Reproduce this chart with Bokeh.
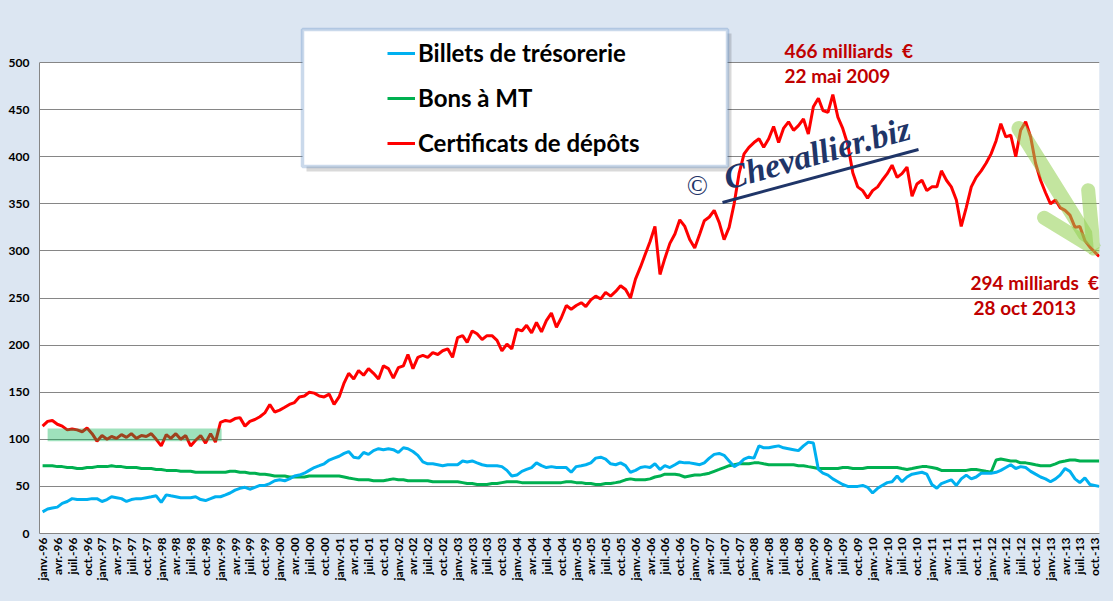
import math
import pandas as pd
from bokeh.plotting import figure
from bokeh.models import (ColumnDataSource, Range1d, FixedTicker, BoxAnnotation,
                          Label, Legend, LegendItem, Arrow, OpenHead)
from bokeh.embed import file_html
from bokeh.resources import INLINE

# encours mensuels, milliards d'euros (janv. 1996 -> 28 oct. 2013)
billets = [
    23, 26, 27, 28, 32, 34, 37, 36, 36, 36, 37, 37,
    34, 36, 39, 38, 37, 34, 36, 37, 37, 38, 39, 40,
    33, 41, 40, 39, 38, 38, 38, 39, 36, 35, 37, 39,
    39, 41, 43, 46, 48, 49, 47, 49, 51, 51, 53, 56,
    57, 56, 58, 61, 62, 64, 67, 70, 72, 74, 78, 80,
    82, 85, 87, 81, 80, 86, 84, 88, 90, 89, 90, 89,
    86, 91, 90, 87, 83, 76, 74, 74, 73, 72, 73, 73,
    73, 77, 76, 77, 75, 73, 72, 72, 72, 71, 67, 61,
    62, 66, 68, 70, 75, 72, 70, 71, 70, 70, 70, 65,
    71, 72, 73, 75, 80, 81, 79, 74, 73, 75, 72, 65,
    67, 70, 71, 70, 74, 68, 72, 70, 73, 76, 75, 75,
    74, 73, 75, 80, 84, 85, 83, 77, 71, 74, 79, 81,
    80, 93, 91, 91, 92, 93, 91, 90, 89, 88, 93, 97,
    96, 68, 64, 62, 58, 55, 52, 50, 50, 50, 51, 49,
    43, 48, 51, 54, 55, 61, 55, 60, 63, 64, 65, 63,
    52, 48, 53, 55, 57, 51, 58, 62, 58, 60, 64, 64,
    64, 65, 67, 70, 73, 69, 71, 70, 66, 63, 60, 58,
    55, 58, 62, 69, 66, 58, 54, 59, 52, 50,
]
bons = [
    72, 72, 72, 71, 71, 70, 70, 69, 69, 70, 70, 71,
    71, 71, 72, 71, 71, 70, 70, 70, 69, 69, 69, 68,
    68, 67, 67, 67, 66, 66, 66, 65, 65, 65, 65, 65,
    65, 65, 66, 66, 65, 65, 64, 64, 63, 63, 62, 61,
    61, 61, 60, 60, 60, 60, 61, 61, 61, 61, 61, 61,
    61, 60, 59, 58, 57, 57, 57, 56, 56, 56, 57, 58,
    57, 57, 56, 56, 56, 56, 56, 55, 55, 55, 55, 55,
    55, 54, 53, 53, 52, 52, 52, 53, 53, 54, 55, 55,
    55, 54, 54, 54, 54, 54, 54, 54, 54, 54, 55, 55,
    54, 54, 53, 53, 52, 52, 53, 53, 54, 55, 57, 58,
    57, 57, 57, 58, 60, 61, 63, 63, 63, 62, 60, 61,
    62, 62, 63, 64, 66, 68, 70, 72, 73, 74, 74, 74,
    75, 75, 74, 73, 73, 73, 73, 73, 73, 72, 72, 71,
    70, 69, 69, 69, 69, 69, 70, 70, 69, 69, 69, 70,
    70, 70, 70, 70, 70, 70, 69, 68, 69, 70, 71, 71,
    70, 69, 67, 67, 67, 67, 67, 67, 68, 68, 67, 66,
    65, 78, 79, 78, 77, 77, 75, 75, 74, 73, 72, 72,
    72, 74, 76, 77, 78, 78, 77, 77, 77, 77,
]
certificats = [
    114, 119, 120, 116, 114, 110, 111, 110, 108, 112, 106, 98,
    104, 100, 103, 101, 105, 102, 106, 101, 104, 103, 106, 100,
    93, 105, 101, 106, 100, 104, 93, 99, 104, 96, 106, 97,
    118, 120, 119, 122, 123, 114, 119, 121, 124, 128, 137, 129,
    131, 134, 137, 139, 145, 146, 150, 149, 146, 145, 148, 137,
    145, 160, 170, 164, 173, 168, 175, 170, 164, 178, 175, 165,
    176, 178, 190, 175, 187, 189, 187, 192, 190, 194, 196, 187,
    208, 210, 203, 215, 212, 206, 210, 210, 205, 194, 201, 196,
    217, 215, 221, 213, 224, 214, 226, 234, 219, 229, 242, 238,
    242, 245, 241, 248, 252, 249, 256, 252, 257, 263, 259, 250,
    270, 283, 296, 310, 326, 275, 292, 308, 318, 333, 326, 312,
    303, 318, 332, 336, 343, 330, 312, 325, 350, 382, 403, 410,
    415, 419, 410, 419, 432, 415, 430, 437, 428, 433, 440, 424,
    453, 462, 449, 447, 466, 442, 430, 413, 383, 368, 364, 356,
    364, 368, 375, 382, 391, 378, 382, 389, 358, 371, 375, 364,
    368, 368, 385, 375, 368, 354, 326, 346, 368, 378, 385, 393,
    403, 417, 435, 421, 423, 400, 428, 437, 421, 393, 375, 362,
    350, 354, 346, 343, 338, 325, 326, 311, 304, 294,
]
mois = list(pd.date_range("1996-01-01", "2013-09-01", freq="MS")) + [pd.Timestamp("2013-10-28")]

annees = list(range(1996, 2014))
trimestres = ["janv.", "avr.", "juil.", "oct."]

series = ["Billets de trésorerie", "Bons à MT", "Certificats de dépôts"]
couleurs = ["#00b0f0", "#00b050", "#ff0000"]


def ms(d):
    return int(pd.Timestamp(d).timestamp() * 1000)


xs = [ms(d) for d in mois]
ticks, tick_labels = [], []
for a in annees:
    for i, t in enumerate(trimestres):
        d = pd.Timestamp(year=a, month=1 + 3 * i, day=1)
        if d <= mois[-1]:
            ticks.append(ms(d))
            tick_labels.append("%s-%02d" % (t, a % 100))

bg = "#dce6f2"
font = "Lato"

# the frame runs up to the top edge so the legend and notes are not clipped;
# the white plot area itself stops at 500
y_top = 500 * 533 / 471

p = figure(width=1113, height=601, output_backend="svg", toolbar_location=None,
           x_range=Range1d(ms("1995-12-13"), ms("2013-10-30")),
           y_range=Range1d(0, y_top),
           background_fill_color=bg, border_fill_color=bg,
           min_border_left=39, min_border_right=14,
           min_border_top=0, min_border_bottom=68)
p.outline_line_color = None
p.add_layout(BoxAnnotation(bottom=0, top=500, fill_color="white", fill_alpha=1.0,
                           line_color=None, level="image"))

p.xaxis.ticker = FixedTicker(ticks=ticks)
p.xaxis.major_label_overrides = dict(zip(ticks, tick_labels))
p.xaxis.major_label_orientation = math.pi / 2
p.xaxis.major_label_standoff = 4
p.xaxis.major_label_text_font_size = "12px"
p.yaxis.ticker = FixedTicker(ticks=list(range(0, 501, 50)))
p.yaxis.bounds = (0, 500)
p.yaxis.major_label_standoff = 10
p.yaxis.major_label_text_font_size = "12px"
for ax in (p.xaxis, p.yaxis):
    ax.major_tick_line_color = None
    ax.minor_tick_line_color = None
    ax.major_tick_out = 0
    ax.axis_line_color = "#868686"
    ax.major_label_text_font = font
    ax.major_label_text_font_style = "bold"
    ax.major_label_text_color = "black"
p.xgrid.grid_line_color = None
p.ygrid.grid_line_color = "#868686"

src = ColumnDataSource(dict(x=xs, billets=billets, bons=bons, certificats=certificats))
r_bons = p.line("x", "bons", source=src, line_color=couleurs[1], line_width=3)
r_bil = p.line("x", "billets", source=src, line_color=couleurs[0], line_width=3)
r_cert = p.line("x", "certificats", source=src, line_color=couleurs[2], line_width=3)

# zones surlignees en vert
p.add_layout(BoxAnnotation(left=ms("1996-02-01"), right=ms("1999-01-08"), bottom=98, top=111.5,
                           fill_color="#00b050", fill_alpha=0.38, line_color=None))
p.add_layout(Arrow(x_start=ms("2012-06-21"), y_start=430, x_end=ms("2013-09-24"), y_end=303,
                   line_color="#92d050", line_alpha=0.55, line_width=15, line_cap="round",
                   end=OpenHead(size=52, line_color="#92d050", line_alpha=0.55,
                                line_width=14, line_cap="round")))

# cadre de legende
p.add_layout(BoxAnnotation(left=267, right=692, top=500, bottom=362,
                           left_units="screen", right_units="screen",
                           top_units="screen", bottom_units="screen",
                           fill_color="black", fill_alpha=0.15, line_color=None))
p.add_layout(BoxAnnotation(left=263, right=688, top=504, bottom=367,
                           left_units="screen", right_units="screen",
                           top_units="screen", bottom_units="screen",
                           fill_color="white", fill_alpha=1.0,
                           line_color="#4f81bd", line_width=3.5))
legend = Legend(items=[LegendItem(label=series[0], renderers=[r_bil]),
                       LegendItem(label=series[1], renderers=[r_bons]),
                       LegendItem(label=series[2], renderers=[r_cert])],
                location=(348, 376), padding=0, margin=0, spacing=16,
                glyph_width=28, glyph_height=24, label_height=24, label_standoff=3,
                label_text_font=font, label_text_font_style="bold",
                label_text_font_size="24px", label_text_color="black",
                background_fill_alpha=0, border_line_color=None)
p.add_layout(legend)

# annotations
notes = [("466 milliards\u00a0 €", 745, 483), ("22 mai 2009", 745, 458),
         ("294 milliards\u00a0 €", 931, 251), ("28 oct 2013", 934, 226)]
for txt, sx, sy in notes:
    p.add_layout(Label(x=sx, y=sy, x_units="screen", y_units="screen", text=txt,
                       text_color="#c00000", text_font=font, text_font_style="bold",
                       text_font_size="19px", text_baseline="middle"))

# filigrane
navy = "#1f3568"
p.add_layout(Label(x=658, y=348, x_units="screen", y_units="screen", text="©",
                   text_color=navy, text_font="Liberation Serif", text_font_size="28px",
                   text_align="center", text_baseline="middle"))
p.add_layout(Label(x=690, y=337, x_units="screen", y_units="screen", text="Chevallier.biz",
                   angle=0.27, text_color=navy, text_font="Liberation Serif",
                   text_font_style="bold italic", text_font_size="34px"))
p.add_layout(Arrow(x_start=683, y_start=331, x_end=879, y_end=384,
                   start_units="screen", end_units="screen", end=None,
                   line_color=navy, line_width=3))

html = file_html(p, INLINE)
html = html.replace("<head>", "<head><style>body{background:%s;}</style>" % bg, 1)
open("out.html", "w").write(html)
